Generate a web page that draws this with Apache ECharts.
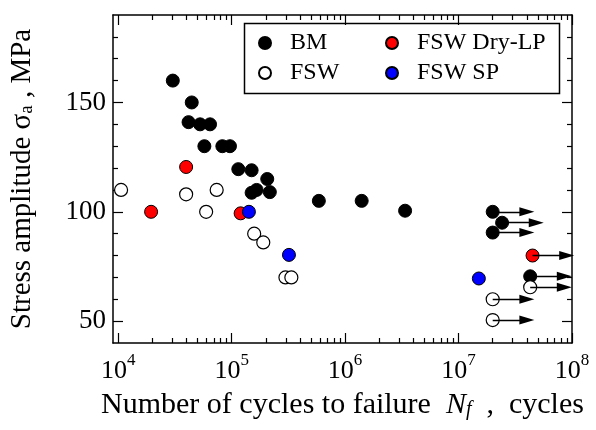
<!DOCTYPE html>
<html>
<head>
<meta charset="utf-8">
<script src="https://cdn.jsdelivr.net/npm/echarts@6/dist/echarts.min.js"></script>
<style>
  html, body { margin: 0; padding: 0; background: #fff; }
  #chart { width: 596px; height: 430px; }
</style>
</head>
<body>
<div id="chart"></div>
<script>
// cycles to failure / stress amplitude (MPa)
const bmPoints = [
  [30300, 160], [44500, 150], [41700, 141], [52700, 140], [64500, 140],
  [57500, 130], [82800, 130], [96600, 130], [114500, 119.5], [150000, 119],
  [206000, 115], [150000, 108.7], [166000, 110], [217000, 109],
  [587000, 105], [1400000, 105], [3380000, 100.5],
  [20000000, 100], [24200000, 95], [20000000, 90.5], [42800000, 70.5]
]
const fswPoints = [
  [10600, 110], [39700, 108], [73800, 110], [59600, 100], [158000, 90],
  [190000, 86], [298000, 70], [336000, 70],
  [42800000, 65.5], [20000000, 60], [20000000, 50.5]
]
const dryLpPoints = [[19500, 100], [39700, 120.5], [120000, 99.3], [44900000, 80]]
const spPoints = [[142000, 100], [320000, 80.3], [15100000, 69.5]]

// run-outs (specimens that did not fail) get an arrow
const bmRunouts = [[20000000, 100], [24200000, 95], [20000000, 90.5], [42800000, 70.5]]
const fswRunouts = [[42800000, 65.5], [20000000, 60], [20000000, 50.5]]
const dryLpRunouts = [[44900000, 80]]
const runoutFactor = 2.0

const xMajorTicks = [1e4, 1e5, 1e6, 1e7, 1e8]
const xMinorTicks = []
for (let d = 4; d < 8; d++) {
  for (let k = 2; k <= 9; k++) xMinorTicks.push(k * Math.pow(10, d))
}
const yMajorTicks = [50, 100, 150]
const yMinorTicks = [60, 70, 80, 90, 110, 120, 130, 140, 160, 170, 180]

const FONT = 'Liberation Serif'
const BLACK = '#000'

const chart = echarts.init(document.getElementById('chart'))

const arrows = (pts) => ({
  silent: true,
  animation: false,
  symbol: ['none', 'triangle'],
  symbolSize: [9, 15],
  label: { show: false },
  lineStyle: { color: BLACK, width: 1.3, type: 'solid' },
  data: pts.map(p => [{ coord: p }, { coord: [p[0] * runoutFactor, p[1]] }])
})

const xAxisBase = (position, ticks, len, extra) => Object.assign({
  type: 'log',
  logBase: 10,
  min: 9000,
  max: 1e8,
  position: position,
  axisLine: { show: false },
  axisTick: { show: true, inside: true, length: len, customValues: ticks, lineStyle: { color: BLACK, width: 1.2 } },
  axisLabel: { show: false },
  splitLine: { show: false },
  minorTick: { show: false }
}, extra || {})

const yAxisBase = (position, ticks, len, extra) => Object.assign({
  type: 'value',
  min: 40,
  max: 190,
  interval: 10,
  position: position,
  axisLine: { show: false },
  axisTick: { show: true, inside: true, length: len, customValues: ticks, lineStyle: { color: BLACK, width: 1.2 } },
  axisLabel: { show: false },
  splitLine: { show: false }
}, extra || {})

const option = {
  backgroundColor: '#fff',
  animation: false,
  grid: { left: 111, right: 24, top: 15, bottom: 87, containLabel: false },
  xAxis: [
    xAxisBase('bottom', xMajorTicks, 10, {
      axisLine: { show: true, lineStyle: { color: BLACK, width: 1.5 } },
      axisLabel: {
        show: true,
        customValues: xMajorTicks,
        margin: 9,
        formatter: v => '{b|10}{s|' + Math.round(Math.log10(v)) + '}',
        rich: {
          b: { fontFamily: FONT, fontSize: 26, color: BLACK, verticalAlign: 'bottom', lineHeight: 32 },
          s: { fontFamily: FONT, fontSize: 17, color: BLACK, verticalAlign: 'top', lineHeight: 17 }
        }
      },
      name: '{t|Number of cycles to failure  }{i|N}{f|f}{t|  ,  cycles}',
      nameLocation: 'middle',
      nameGap: 47,
      nameTextStyle: {
        rich: {
          t: { fontFamily: FONT, fontSize: 30, color: BLACK },
          i: { fontFamily: FONT, fontSize: 30, fontStyle: 'italic', color: BLACK },
          f: { fontFamily: FONT, fontSize: 20, fontStyle: 'italic', color: BLACK, verticalAlign: 'bottom', lineHeight: 10 }
        }
      }
    }),
    xAxisBase('bottom', xMinorTicks, 5),
    xAxisBase('top', xMajorTicks, 10, { axisLine: { show: true, lineStyle: { color: BLACK, width: 1.5 } } }),
    xAxisBase('top', xMinorTicks, 5)
  ],
  yAxis: [
    yAxisBase('left', yMajorTicks, 10, {
      axisLine: { show: true, lineStyle: { color: BLACK, width: 1.5 } },
      axisLabel: {
        show: true,
        customValues: yMajorTicks,
        margin: 7,
        fontFamily: FONT,
        fontSize: 27,
        color: BLACK
      },
      name: '{t|Stress amplitude σ}{s|a}{t| , MPa}',
      nameLocation: 'middle',
      nameGap: 76,
      nameRotate: 90,
      nameTextStyle: {
        rich: {
          t: { fontFamily: FONT, fontSize: 29, color: BLACK },
          s: { fontFamily: FONT, fontSize: 19, color: BLACK, verticalAlign: 'bottom', lineHeight: 10 }
        }
      }
    }),
    yAxisBase('left', yMinorTicks, 5),
    yAxisBase('right', yMajorTicks, 10, { axisLine: { show: true, lineStyle: { color: BLACK, width: 1.5 } } }),
    yAxisBase('right', yMinorTicks, 5)
  ],
  legend: [
    {
      data: ['BM', 'FSW'],
      orient: 'vertical',
      left: 253,
      top: 26,
      itemWidth: 40,
      itemHeight: 12,
      itemGap: 6,
      selectedMode: false,
      textStyle: { fontFamily: FONT, fontSize: 24, color: BLACK }
    },
    {
      data: ['FSW Dry-LP', 'FSW SP'],
      orient: 'vertical',
      left: 380,
      top: 26,
      itemWidth: 40,
      itemHeight: 12,
      itemGap: 6,
      selectedMode: false,
      textStyle: { fontFamily: FONT, fontSize: 24, color: BLACK }
    }
  ],
  graphic: [
    {
      type: 'rect',
      left: 242,
      top: 21,
      shape: { width: 315, height: 70 },
      style: { fill: 'none', stroke: BLACK, lineWidth: 1.5 },
      silent: true
    }
  ],
  series: [
    {
      name: 'BM',
      type: 'scatter',
      data: bmPoints,
      symbol: 'circle',
      symbolSize: 13,
      itemStyle: { color: BLACK, borderColor: BLACK, borderWidth: 1, opacity: 1 },
      markLine: arrows(bmRunouts)
    },
    {
      name: 'FSW',
      type: 'scatter',
      data: fswPoints,
      symbol: 'circle',
      symbolSize: 13,
      itemStyle: { color: '#fff', borderColor: BLACK, borderWidth: 1.2, opacity: 1 },
      markLine: arrows(fswRunouts)
    },
    {
      name: 'FSW Dry-LP',
      type: 'scatter',
      data: dryLpPoints,
      symbol: 'circle',
      symbolSize: 13,
      itemStyle: { color: '#ff0000', borderColor: BLACK, borderWidth: 1, opacity: 1 },
      markLine: arrows(dryLpRunouts)
    },
    {
      name: 'FSW SP',
      type: 'scatter',
      data: spPoints,
      symbol: 'circle',
      symbolSize: 13,
      itemStyle: { color: '#0000ff', borderColor: BLACK, borderWidth: 1, opacity: 1 }
    }
  ]
}

chart.setOption(option)
</script>
</body>
</html>
